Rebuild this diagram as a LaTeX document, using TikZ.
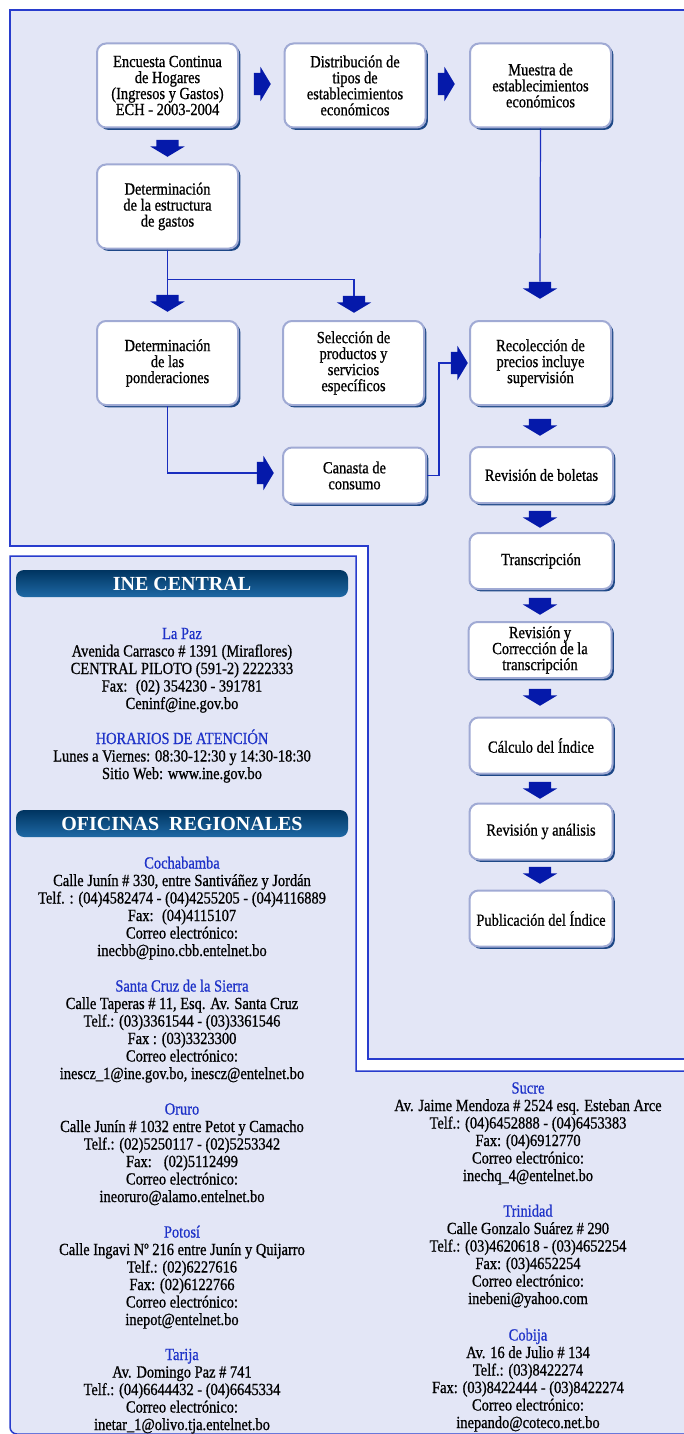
\documentclass[tikz,border=0pt]{standalone}
\usepackage{fontspec}
\setmainfont{Liberation Serif}[FakeStretch=0.85, FakeBold=0.8]
\newfontfamily\bandafont{Liberation Serif}
\usetikzlibrary{shapes.arrows,shadows}

\definecolor{fondo}{RGB}{227,230,246}
\definecolor{marco}{RGB}{40,60,205}
\definecolor{azulflecha}{RGB}{5,25,170}
\definecolor{azullinea}{RGB}{25,45,190}
\definecolor{azulciudad}{RGB}{30,50,200}
\definecolor{bordeclaro}{RGB}{160,170,212}
\definecolor{bordeoscuro}{RGB}{30,72,135}
\definecolor{bandaoscura}{RGB}{0,52,96}
\definecolor{bandaclara}{RGB}{30,105,165}

\newcommand{\ciudad}[1]{\textcolor{azulciudad}{#1}}

\begin{document}
\begin{tikzpicture}[x=1pt, y=-1pt,
		caja/.style={draw=bordeclaro, line width=2pt, fill=white, rounded corners=9pt, align=center, inner sep=2pt, font=\fontsize{17}{16}\selectfont, drop shadow={shadow xshift=2.4pt, shadow yshift=-2.4pt, fill=bordeoscuro, opacity=1}},
		alta/.style={minimum width=141pt, minimum height=84pt},
		baja/.style={minimum width=143pt, minimum height=56pt},
		flecha/.style={single arrow, fill=azulflecha, draw=none, minimum height=17pt, single arrow head extend=6pt, single arrow tip angle=118, single arrow head indent=0pt},
		abajo/.style={flecha, inner xsep=11pt, inner ysep=0pt, shape border rotate=270, anchor=tip},
		derecha/.style={flecha, inner xsep=0pt, inner ysep=11pt, anchor=tip},
		linea/.style={draw=azullinea, line width=1.2pt},
		banda/.style={rounded corners=8pt, top color=bandaoscura, bottom color=bandaclara, minimum width=332pt, minimum height=27pt, text=white, font=\bandafont\bfseries\fontsize{20}{20}\selectfont},
		datos/.style={align=center, anchor=base, inner sep=0pt, font=\fontsize{17}{17.5}\selectfont}]
			\useasboundingbox (0,0) rectangle (684,1434);
			\clip (0,0) rectangle (684,1434);
			\fill[white] (0,0) rectangle (684,1434);
			% paneles
			\draw[fill=fondo, draw=marco, line width=1.5pt] (10,10) -- (690,10) -- (690,1059) -- (368,1059) -- (368,546) -- (10,546) -- cycle;
			\draw[fill=fondo, draw=marco, line width=1.5pt] (10,556) -- (356,556) -- (356,1071) -- (690,1071) -- (690,1434) -- (17,1434) arc[start angle=90, end angle=180, radius=7] -- cycle;
			% diagrama
			\node (b1) [caja, alta] at (167.5,85.5) {Encuesta Continua\\de Hogares\\(Ingresos y Gastos)\\ECH - 2003-2004};
			\node (b2) [caja, alta] at (355,85.5) {Distribución de\\tipos de\\establecimientos\\económicos};
			\node (b3) [caja, alta] at (540.5,85.5) {Muestra de\\establecimientos\\económicos};
			\node (b4) [caja, alta] at (167.5,206.5) {Determinación\\de la estructura\\de gastos};
			\node (b5) [caja, alta] at (167.5,363) {Determinación\\de las\\ponderaciones};
			\node (b6) [caja, alta] at (353.5,363) {Selección de\\productos y\\servicios\\específicos};
			\node (b7) [caja, alta] at (540.5,363) {Recolección de\\precios incluye\\supervisión};
			\node (b8) [caja, baja] at (354.5,475.5) {Canasta de\\consumo};
			\node (b9) [caja, baja] at (541.5,475) {Revisión de boletas};
			\node (b10) [caja, baja] at (541,561) {Transcripción};
			\node (b11) [caja, baja] at (540,650) {Revisión y\\Corrección de la\\transcripción};
			\node (b12) [caja, baja] at (541,745.5) {Cálculo del Índice};
			\node (b13) [caja, baja] at (541,831.5) {Revisión y análisis};
			\node (b14) [caja, baja] at (541,918.5) {Publicación del Índice};
			\node (f1) [derecha] at (271,84) {};
			\node (f2) [derecha] at (455,84) {};
			\node (f3) [abajo] at (167.5,312) {};
			\node (f4) [abajo] at (354,313) {};
			\node (f5) [abajo] at (540,299) {};
			\node (f6) [derecha] at (274,473) {};
			\node (f7) [derecha] at (468,363) {};
			\node (f8) [abajo] at (167.5,157) {};
			\node (f9) [abajo] at (540,436) {};
			\node (f10) [abajo] at (540,528) {};
			\node (f11) [abajo] at (540,615) {};
			\node (f12) [abajo] at (540,706) {};
			\node (f13) [abajo] at (540,799) {};
			\node (f14) [abajo] at (540,884) {};
			\draw[linea] (b4.south) -- (f3.tail);
			\draw[linea] (b4.south) -- ++(0,30) -| (f4.tail);
			\draw[linea] (b3.south) -- (f5.tail);
			\draw[linea] (b5.south) |- (f6.tail);
			\draw[linea] (b8.east) -- ++(12,0) |- (f7.tail);
			% oficinas
			\node (central) [banda] at (182,583.5) {INE CENTRAL};
			\node (regionales) [banda] at (182,823.5) {OFICINAS\ \ REGIONALES};
			\node (lapaz) [datos] at (182,709) {\ciudad{La Paz}\\Avenida Carrasco \# 1391 (Miraflores)\\CENTRAL PILOTO (591-2) 2222333\\Fax: \ (02) 354230 - 391781\\Ceninf@ine.gov.bo};
			\node (horarios) [datos] at (182,779) {\ciudad{HORARIOS DE ATENCIÓN}\\Lunes a Viernes: 08:30-12:30 y 14:30-18:30\\Sitio Web: www.ine.gov.bo};
			\node (cochabamba) [datos] at (182,956) {\ciudad{Cochabamba}\\Calle Junín \# 330, entre Santiváñez y Jordán\\Telf. : (04)4582474 - (04)4255205 - (04)4116889\\Fax: \ (04)4115107\\Correo electrónico:\\inecbb@pino.cbb.entelnet.bo};
			\node (santacruz) [datos] at (182,1079) {\ciudad{Santa Cruz de la Sierra}\\Calle Taperas \# 11, Esq. Av. Santa Cruz\\Telf.: (03)3361544 - (03)3361546\\Fax : (03)3323300\\Correo electrónico:\\inescz\_1@ine.gov.bo, inescz@entelnet.bo};
			\node (oruro) [datos] at (182,1202) {\ciudad{Oruro}\\Calle Junín \# 1032 entre Petot y Camacho\\Telf.: (02)5250117 - (02)5253342\\Fax: \ \ (02)5112499\\Correo electrónico:\\ineoruro@alamo.entelnet.bo};
			\node (potosi) [datos] at (182,1325) {\ciudad{Potosí}\\Calle Ingavi Nº 216 entre Junín y Quijarro\\Telf.: (02)6227616\\Fax: (02)6122766\\Correo electrónico:\\inepot@entelnet.bo};
			\node (tarija) [datos] at (182,1430) {\ciudad{Tarija}\\Av. Domingo Paz \# 741\\Telf.: (04)6644432 - (04)6645334\\Correo electrónico:\\inetar\_1@olivo.tja.entelnet.bo};
			\node (sucre) [datos] at (528,1181) {\ciudad{Sucre}\\Av. Jaime Mendoza \# 2524 esq. Esteban Arce\\Telf.: (04)6452888 - (04)6453383\\Fax: (04)6912770\\Correo electrónico:\\inechq\_4@entelnet.bo};
			\node (trinidad) [datos] at (528,1304) {\ciudad{Trinidad}\\Calle Gonzalo Suárez \# 290\\Telf.: (03)4620618 - (03)4652254\\Fax: (03)4652254\\Correo electrónico:\\inebeni@yahoo.com};
			\node (cobija) [datos] at (528,1428) {\ciudad{Cobija}\\Av. 16 de Julio \# 134\\Telf.: (03)8422274\\Fax: (03)8422444 - (03)8422274\\Correo electrónico:\\inepando@coteco.net.bo};
		\end{tikzpicture}
\end{document}
